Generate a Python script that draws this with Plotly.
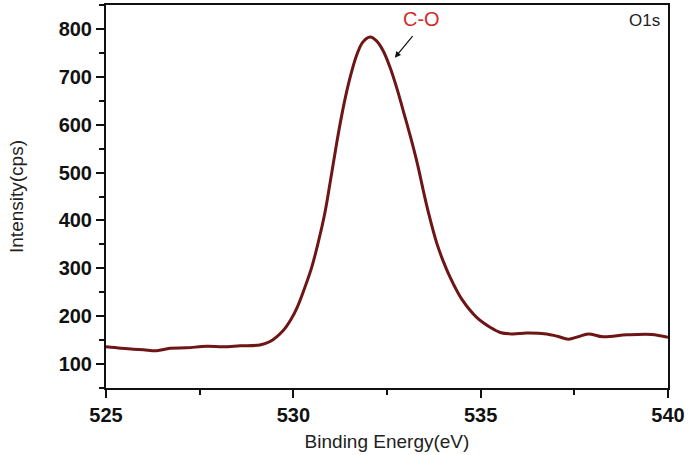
import plotly.graph_objects as go

# Binding energy (eV) and intensity (cps)
energy = [525.0, 525.4, 525.73, 526.0, 526.35, 526.71, 527.15, 527.69, 528.13, 528.58,
          529.11, 529.38, 529.73, 529.95, 530.1, 530.27, 530.49, 530.67, 530.84, 530.98,
          531.16, 531.29, 531.42, 531.56, 531.69, 531.85, 532.05, 532.22, 532.4, 532.58,
          532.76, 532.93, 533.16, 533.33, 533.47, 533.62, 533.83, 534.0, 534.18, 534.5,
          534.9, 535.25, 535.52, 535.85, 536.23, 536.76, 537.05, 537.34, 537.6, 537.87,
          538.27, 538.9, 539.56, 540.0]
intensity = [136, 133, 131, 130, 128, 133, 134, 137, 136, 138,
             140, 147, 170, 195, 218, 252, 302, 356, 415, 478,
             563, 619, 668, 712, 745, 772, 783, 775, 754, 720,
             677, 630, 565, 512, 462, 412, 352, 315, 282, 235,
             197, 177, 166, 163, 165, 163, 158, 152, 157, 163,
             157, 161, 162, 156]

x_ticks = [525, 530, 535, 540]
y_ticks = [100, 200, 300, 400, 500, 600, 700, 800]

line_color = "#6E1515"
font_family = "Liberation Sans, Arial"

fig = go.Figure()
fig.add_trace(go.Scatter(x=energy, y=intensity, mode="lines",
                         line=dict(color=line_color, width=3, shape="spline", smoothing=1.0),
                         showlegend=False, hoverinfo="skip"))

fig.add_annotation(x=533.41, y=821, text="C-O", showarrow=False,
                   font=dict(family=font_family, size=20, color="#D42A2A"))
fig.add_annotation(x=532.71, y=740, ax=19, ay=-23, text="", showarrow=True,
                   arrowhead=2, arrowsize=1, arrowwidth=1.2, arrowcolor="#111111")
fig.add_annotation(x=539.38, y=817, text="O1s", showarrow=False,
                   font=dict(family=font_family, size=17, color="#222222"))

fig.update_layout(
    width=688, height=455,
    margin=dict(l=106, r=20, t=3, b=67),
    paper_bgcolor="white", plot_bgcolor="white",
    font=dict(family=font_family, color="#111111"),
)
fig.update_xaxes(range=[525, 540], tickvals=x_ticks, ticks="outside", ticklen=8, tickwidth=2,
                 tickcolor="#111111", showline=True, linecolor="#111111", linewidth=2,
                 mirror=True, showgrid=False, zeroline=False,
                 tickfont=dict(family=font_family, size=20, color="#111111", weight="bold"),
                 minor=dict(dtick=2.5, tick0=525, ticks="outside", ticklen=5, tickwidth=2, tickcolor="#111111"),
                 title=dict(text="Binding Energy(eV)", font=dict(size=19, color="#222222"), standoff=10))
fig.update_yaxes(range=[50, 850], tickvals=y_ticks, ticks="outside", ticklen=8, tickwidth=2,
                 tickcolor="#111111", showline=True, linecolor="#111111", linewidth=2,
                 mirror=True, showgrid=False, zeroline=False,
                 tickfont=dict(family=font_family, size=20, color="#111111", weight="bold"),
                 minor=dict(dtick=50, tick0=0, ticks="outside", ticklen=5, tickwidth=2, tickcolor="#111111"),
                 title=dict(text="Intensity(cps)", font=dict(size=19, color="#222222"), standoff=30))

fig.write_html("out.html", config={"displayModeBar": False},
               post_script="document.body.style.margin='0';")
